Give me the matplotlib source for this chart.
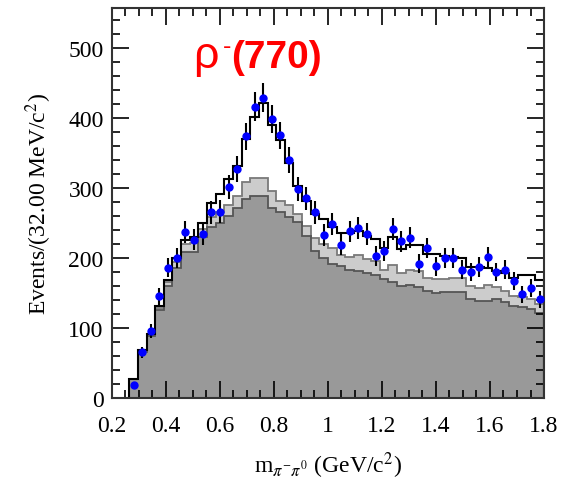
import numpy as np
import matplotlib
matplotlib.use("Agg")
import matplotlib.pyplot as plt
from matplotlib.ticker import MultipleLocator

# binning: 48 bins of 32 MeV from 0.264 to 1.8 GeV
edges = np.round(np.linspace(0.264, 1.8, 49), 3)
centers = 0.5 * (edges[:-1] + edges[1:])

# data points (events per bin)
data = [19, 65, 96, 145, 186, 200, 237, 226, 234, 265, 266, 301, 327, 374, 416, 429,
        398, 375, 340, 299, 285, 265, 233, 248, 219, 238, 243, 234, 203, 210, 241, 224,
        229, 192, 214, 188, 200, 200, 183, 180, 187, 201, 180, 183, 167, 148, 157, 141]

# total fit (black line)
total = [27, 68, 91, 132, 169, 200, 226, 230, 250, 279, 292, 313, 331, 370, 402, 421,
         390, 368, 335, 303, 282, 263, 256, 244, 236, 236, 238, 231, 227, 214, 230, 213,
         218, 218, 206, 205, 203, 202, 200, 187, 187, 186, 181, 178, 172, 175, 175, 168]

# light gray top (stacked)
light = [27, 67, 90, 128, 166, 194, 220, 222, 241, 258, 265, 276, 288, 308, 314, 314,
         296, 282, 275, 263, 246, 228, 220, 214, 204, 202, 204, 199, 195, 183, 190, 178,
         183, 181, 172, 170, 170, 172, 172, 160, 157, 161, 159, 153, 146, 144, 141, 134]

# dark gray background
dark = [27, 65, 89, 125, 160, 186, 208, 208, 230, 244, 250, 260, 272, 284, 288, 288,
        272, 265, 258, 251, 232, 210, 200, 192, 189, 183, 181, 179, 176, 170, 165, 160,
        161, 158, 153, 150, 151, 151, 151, 141, 139, 139, 141, 137, 132, 130, 127, 122]

plt.rcParams['font.family'] = ['Liberation Serif', 'DejaVu Serif']
plt.rcParams['mathtext.fontset'] = 'stix'

fig = plt.figure(figsize=(5.61, 4.81), dpi=100)
ax = fig.add_axes([0.1996, 0.1705, 0.7701, 0.8108])

ax.stairs(dark, edges, fill=True, color='#999999', lw=0)
ax.stairs(light, edges, baseline=dark, fill=True, color='#cccccc', lw=0)
ax.stairs(light, edges, color='#7a7a7a', lw=1.3, baseline=None)
ax.stairs(dark, edges, color='#555555', lw=1.3, baseline=None)
ax.stairs(total, edges, color='black', lw=1.5)

ax.errorbar(centers, data, yerr=np.sqrt(data), fmt='o', ms=5, color='blue',
            ecolor='black', elinewidth=1.5, capsize=0, zorder=5)

ax.set_xlim(0.2, 1.8)
ax.set_ylim(0, 557)
ax.xaxis.set_major_locator(MultipleLocator(0.2))
ax.xaxis.set_minor_locator(MultipleLocator(0.05))
ax.yaxis.set_major_locator(MultipleLocator(100))
ax.yaxis.set_minor_locator(MultipleLocator(20))
ax.set_xticks([0.2, 0.4, 0.6, 0.8, 1.0, 1.2, 1.4, 1.6, 1.8])
ax.set_xticklabels(['0.2', '0.4', '0.6', '0.8', '1', '1.2', '1.4', '1.6', '1.8'])
ax.tick_params(which='both', direction='in', top=True, right=True, labelsize=17, width=1.2)
ax.tick_params(which='major', length=12)
ax.tick_params(which='minor', length=6)
ax.tick_params(axis='x', which='major', pad=12)
ax.tick_params(axis='y', which='major', pad=6)
for s in ax.spines.values():
    s.set_linewidth(1.5)
    s.set_color('#333333')

ax.set_xlabel(r'm$_{\pi^{-}\pi^{0}}$ (GeV/c$^{2}$)', fontsize=17, labelpad=10)
ax.set_ylabel(r'Events/(32.00 MeV/c$^{2}$)', fontsize=17, labelpad=10)

# title: rho regular, small raised minus, (770) bold
sans = ['Liberation Sans', 'DejaVu Sans']
ax.text(0.50, 473, 'ρ', color='red', fontsize=32, ha='left', va='baseline', family=sans)
ax.text(0.627, 503, '-', color='red', fontsize=18, ha='center', va='center', family=sans)
ax.text(0.643, 473, '(770)', color='red', fontsize=28, fontweight='bold',
        ha='left', va='baseline', family=sans)

fig.savefig('out.png', dpi=100)
